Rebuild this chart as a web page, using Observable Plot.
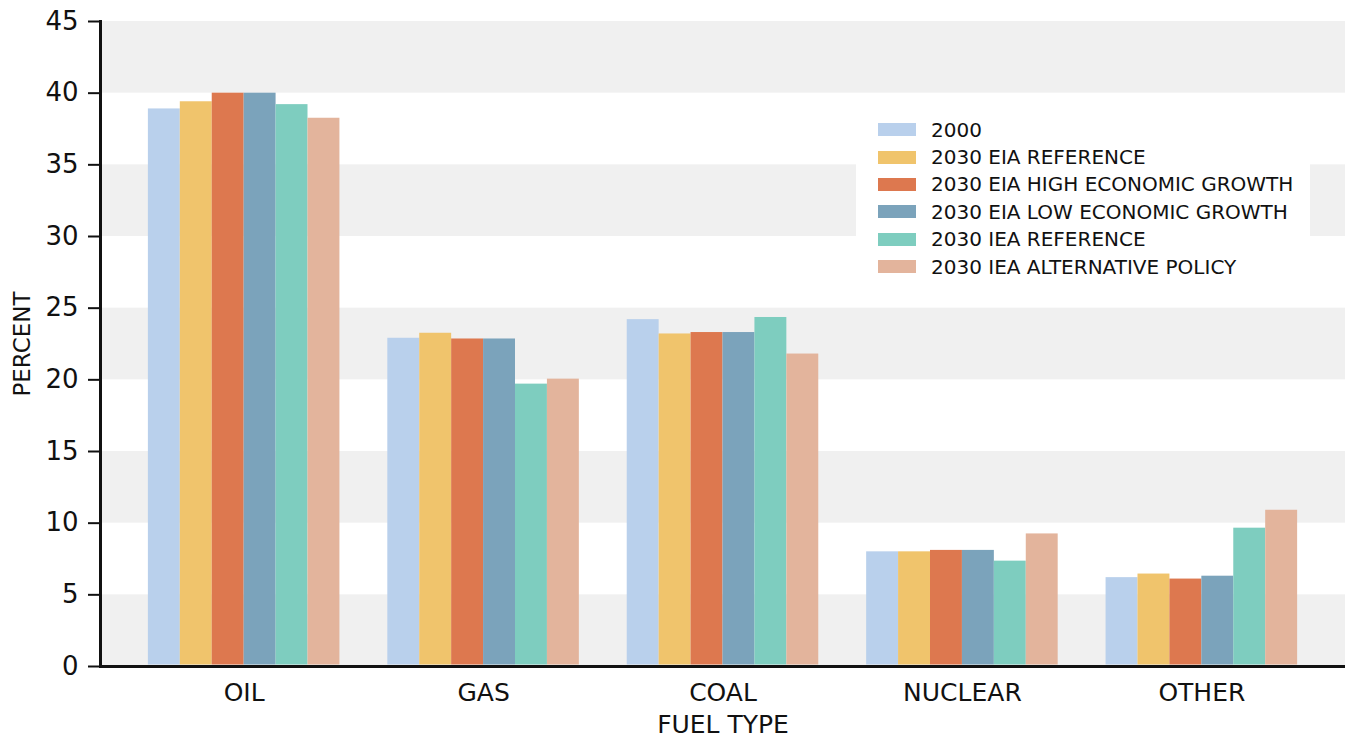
<!DOCTYPE html>
<html>
<head>
<meta charset="utf-8">
<script src="https://cdn.jsdelivr.net/npm/d3@7"></script>
<script src="https://cdn.jsdelivr.net/npm/@observablehq/plot@0.6"></script>
<style>
  html, body { margin: 0; padding: 0; background: #fff; }
  #wrap { position: relative; width: 1356px; height: 740px; font-family: "DejaVu Sans", sans-serif; }
  #back, #front { position: absolute; left: 0; top: 0; }
  #legend { position: absolute; left: 856px; top: 114px; width: 454px; height: 170px; background: #fff; box-sizing: border-box; padding: 2px 0 0 22px; }
  .row { display: flex; align-items: center; height: 27.4px; font-size: 20px; color: #111; white-space: nowrap; }
  .sw { width: 38px; height: 13px; margin-right: 15px; flex: none; }
</style>
</head>
<body>
<div id="wrap"><div id="back"></div><div id="front"></div><div id="legend"></div></div>
<script>
const fuels = ["OIL", "GAS", "COAL", "NUCLEAR", "OTHER"];
const seriesNames = ["2000", "2030 EIA REFERENCE", "2030 EIA HIGH ECONOMIC GROWTH", "2030 EIA LOW ECONOMIC GROWTH", "2030 IEA REFERENCE", "2030 IEA ALTERNATIVE POLICY"];
const seriesColors = ["#b9d0ec", "#f0c46c", "#dd784f", "#7ba3bb", "#7ecdbf", "#e3b49c"];
const v2000     = [38.9, 22.9, 24.2, 8.0, 6.2];
const vEiaRef   = [39.4, 23.25, 23.2, 8.0, 6.45];
const vEiaHigh  = [40.0, 22.85, 23.3, 8.1, 6.1];
const vEiaLow   = [40.0, 22.85, 23.3, 8.1, 6.3];
const vIeaRef   = [39.2, 19.7, 24.35, 7.35, 9.65];
const vIeaAlt   = [38.25, 20.05, 21.8, 9.25, 10.9];
const yTicks = [0, 5, 10, 15, 20, 25, 30, 35, 40, 45];
const bandLows = [0, 10, 20, 30, 40];
const yLabel = "PERCENT";
const xLabel = "FUEL TYPE";

const seriesValues = [v2000, vEiaRef, vEiaHigh, vEiaLow, vIeaRef, vIeaAlt];
const data = [];
seriesValues.forEach((vals, i) => vals.forEach((v, j) => data.push({fuel: fuels[j], series: seriesNames[i], value: v})));
const bands = bandLows.map(b => ({y1: b, y2: b + 5}));

const frameOpts = {
  width: 1356,
  height: 740,
  marginLeft: 100,
  marginRight: 11,
  marginTop: 21,
  marginBottom: 74,
  style: {fontFamily: "DejaVu Sans, sans-serif", background: "transparent", color: "#111"}
};

// background layer: bands, y axis, baseline
const back = Plot.plot({
  ...frameOpts,
  y: {domain: [0, 45], axis: null},
  marks: [
    Plot.rectY(bands, {y1: "y1", y2: "y2", fill: "#f0f0f0"}),
    Plot.axisY(yTicks, {tickSize: 12, tickPadding: 10, fontSize: 26, strokeWidth: 2, label: null}),
    Plot.text([yLabel], {frameAnchor: "left", textAnchor: "middle", rotate: -90, dx: -78, fontSize: 23, fill: "#111"}),
    Plot.ruleY([0], {stroke: "#111", strokeWidth: 3}),
    Plot.frame({anchor: "left", stroke: "#111", strokeWidth: 3})
  ]
});
document.getElementById("back").appendChild(back);

// front layer: grouped bars
const front = Plot.plot({
  ...frameOpts,
  fx: {domain: fuels, paddingInner: 0.2, paddingOuter: 0.2, round: false, label: null},
  x: {domain: seriesNames, padding: 0, round: false, axis: null},
  y: {domain: [0, 45], axis: null},
  color: {domain: seriesNames, range: seriesColors},
  marks: [
    Plot.barY(data, {fx: "fuel", x: "series", y: "value", fill: "series", inset: 0, insetBottom: 1.5}),
    Plot.axisFx({anchor: "bottom", tickSize: 0, tickPadding: 17, fontSize: 25, label: xLabel, labelAnchor: "center", labelOffset: 66, labelArrow: "none"})
  ]
});
document.getElementById("front").appendChild(front);

const legend = document.getElementById("legend");
seriesNames.forEach((name, i) => {
  const row = document.createElement("div");
  row.className = "row";
  const sw = document.createElement("span");
  sw.className = "sw";
  sw.style.background = seriesColors[i];
  const t = document.createElement("span");
  t.textContent = name;
  row.appendChild(sw);
  row.appendChild(t);
  legend.appendChild(row);
});
</script>
</body>
</html>
